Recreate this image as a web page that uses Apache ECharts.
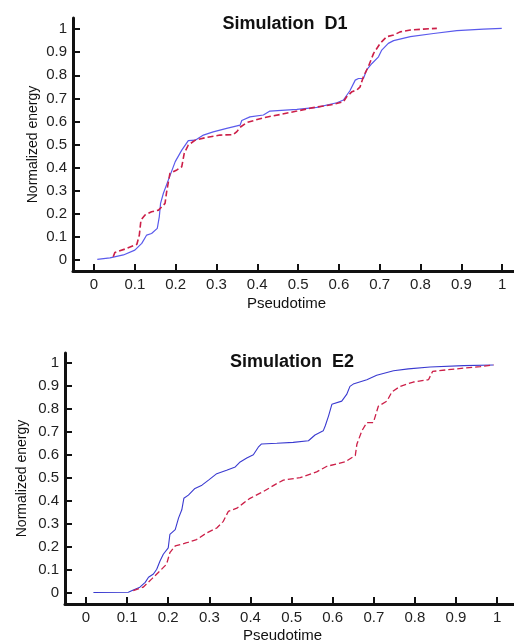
<!DOCTYPE html>
<html>
<head>
<meta charset="utf-8">
<title>Simulation D1 / E2</title>
<script src="https://cdn.jsdelivr.net/npm/echarts@6/dist/echarts.min.js"></script>
<style>
  html, body { margin: 0; padding: 0; background: #fff; }
  #chart { width: 514px; height: 644px; }
</style>
</head>
<body>
<div id="chart"></div>
<script>
// tick positions shared by both panels
var tickValues = [0, 0.1, 0.2, 0.3, 0.4, 0.5, 0.6, 0.7, 0.8, 0.9, 1];

// Simulation D1: [pseudotime, normalized energy]
var d1Blue = [
  [0.008,0.003],[0.039,0.009],[0.072,0.022],[0.100,0.043],[0.117,0.072],[0.129,0.108],
  [0.141,0.115],[0.155,0.137],[0.160,0.188],[0.163,0.245],[0.170,0.289],[0.182,0.346],
  [0.199,0.426],[0.215,0.476],[0.231,0.517],[0.248,0.519],[0.268,0.541],[0.292,0.555],
  [0.325,0.570],[0.358,0.584],[0.362,0.604],[0.382,0.620],[0.415,0.628],[0.431,0.645],
  [0.497,0.652],[0.546,0.661],[0.595,0.681],[0.611,0.693],[0.627,0.733],[0.640,0.779],
  [0.648,0.786],[0.660,0.786],[0.668,0.823],[0.681,0.851],[0.697,0.880],[0.705,0.909],
  [0.721,0.938],[0.734,0.950],[0.775,0.967],[0.832,0.981],[0.889,0.993],[0.954,1.000],
  [0.999,1.003]
];
var d1Red = [
  [0.047,0.014],[0.051,0.032],[0.080,0.050],[0.105,0.068],[0.111,0.108],[0.115,0.173],
  [0.125,0.195],[0.141,0.209],[0.158,0.216],[0.174,0.245],[0.178,0.296],[0.186,0.375],
  [0.203,0.390],[0.215,0.404],[0.221,0.462],[0.231,0.498],[0.248,0.519],[0.276,0.531],
  [0.309,0.541],[0.341,0.543],[0.350,0.556],[0.358,0.575],[0.374,0.595],[0.415,0.616],
  [0.456,0.630],[0.497,0.645],[0.537,0.660],[0.578,0.671],[0.611,0.685],[0.619,0.707],
  [0.632,0.729],[0.644,0.736],[0.652,0.750],[0.660,0.794],[0.672,0.837],[0.685,0.895],
  [0.701,0.938],[0.717,0.967],[0.734,0.974],[0.750,0.988],[0.775,0.996],[0.807,1.000],
  [0.840,1.003]
];

// Simulation E2
var e2Blue = [
  [0.018,0.003],[0.103,0.004],[0.115,0.014],[0.131,0.026],[0.144,0.047],[0.152,0.069],
  [0.164,0.083],[0.172,0.104],[0.180,0.140],[0.188,0.169],[0.200,0.197],[0.204,0.255],
  [0.217,0.276],[0.225,0.326],[0.233,0.362],[0.238,0.412],[0.249,0.426],[0.265,0.455],
  [0.282,0.469],[0.298,0.491],[0.318,0.519],[0.342,0.534],[0.363,0.548],[0.375,0.570],
  [0.391,0.587],[0.407,0.601],[0.419,0.634],[0.427,0.648],[0.464,0.651],[0.504,0.655],
  [0.541,0.662],[0.557,0.687],[0.577,0.705],[0.582,0.727],[0.590,0.770],[0.598,0.820],
  [0.622,0.834],[0.634,0.863],[0.642,0.898],[0.650,0.908],[0.683,0.927],[0.707,0.946],
  [0.748,0.966],[0.784,0.974],[0.837,0.982],[0.918,0.988],[0.991,0.991]
];
var e2Red = [
  [0.115,0.011],[0.139,0.026],[0.160,0.062],[0.180,0.097],[0.196,0.126],[0.204,0.176],
  [0.217,0.205],[0.245,0.219],[0.269,0.233],[0.294,0.262],[0.318,0.283],[0.334,0.312],
  [0.346,0.355],[0.367,0.369],[0.383,0.391],[0.399,0.412],[0.431,0.441],[0.464,0.476],
  [0.480,0.491],[0.521,0.502],[0.561,0.527],[0.586,0.551],[0.630,0.570],[0.655,0.598],
  [0.659,0.648],[0.671,0.705],[0.683,0.741],[0.699,0.741],[0.711,0.812],[0.732,0.834],
  [0.744,0.874],[0.764,0.898],[0.796,0.917],[0.833,0.927],[0.843,0.963],[0.878,0.970],
  [0.918,0.977],[0.959,0.984],[0.991,0.991]
];

var FONT = 'Arial, "Liberation Sans", sans-serif';
var BLUE = '#5a5aec';
var RED = '#cc1f48';

function fmt(v) { return String(Math.round(v * 10) / 10); }

function xAxis(idx, min, max, gap) {
  return {
    type: 'value', gridIndex: idx, min: min, max: max,
    name: 'Pseudotime', nameLocation: 'middle', nameGap: gap, nameMoveOverlap: false,
    nameTextStyle: { fontFamily: FONT, fontSize: 15, color: '#111', padding: [0, 14, 0, 0] },
    splitLine: { show: false },
    axisLine: { onZero: false, lineStyle: { color: '#111', width: 3 } },
    axisTick: { inside: true, length: 7, lineStyle: { color: '#111', width: 2 }, customValues: tickValues },
    axisLabel: { margin: 6, fontFamily: FONT, fontSize: 15, color: '#222', formatter: fmt, customValues: tickValues }
  };
}
function yAxis(idx, min, max, gap) {
  return {
    type: 'value', gridIndex: idx, min: min, max: max,
    name: 'Normalized energy', nameLocation: 'middle', nameGap: gap, nameMoveOverlap: false,
    nameTextStyle: { fontFamily: FONT, fontSize: 14, color: '#111' },
    splitLine: { show: false },
    axisLine: { onZero: false, lineStyle: { color: '#111', width: 3 } },
    axisTick: { inside: true, length: 7, lineStyle: { color: '#111', width: 2 }, customValues: tickValues },
    axisLabel: { margin: 6, fontFamily: FONT, fontSize: 15, color: '#222', formatter: fmt, customValues: tickValues }
  };
}
function line(idx, data, color, dashed, w) {
  return {
    type: 'line', xAxisIndex: idx, yAxisIndex: idx, data: data,
    symbol: 'none', animation: false, smooth: false,
    lineStyle: { color: color, width: w, type: dashed ? [6, 3] : 'solid' }
  };
}

var chart = echarts.init(document.getElementById('chart'), null, { renderer: 'canvas' });
chart.setOption({
  backgroundColor: '#fff',
  animation: false,
  title: [
    { text: 'Simulation  D1', left: 285, top: 15, padding: 0, textAlign: 'center',
      textStyle: { fontFamily: FONT, fontSize: 18, fontWeight: 'bold', color: '#111' } },
    { text: 'Simulation  E2', left: 292, top: 353, padding: 0, textAlign: 'center',
      textStyle: { fontFamily: FONT, fontSize: 18, fontWeight: 'bold', color: '#111' } }
  ],
  grid: [
    { left: 73, top: 18, width: 441, height: 253 },
    { left: 65, top: 353, width: 449, height: 254 }
  ],
  xAxis: [xAxis(0, -0.0515, 1.029, 25), xAxis(1, -0.0511, 1.041, 24)],
  yAxis: [yAxis(0, -0.0476, 1.048, 33), yAxis(1, -0.047, 1.043, 36)],
  series: [
    line(0, d1Blue, BLUE, false, 1.2),
    line(0, d1Red, RED, true, 1.6),
    line(1, e2Blue, '#3a3ad0', false, 1.1),
    line(1, e2Red, RED, true, 1.3)
  ]
});
</script>
</body>
</html>
